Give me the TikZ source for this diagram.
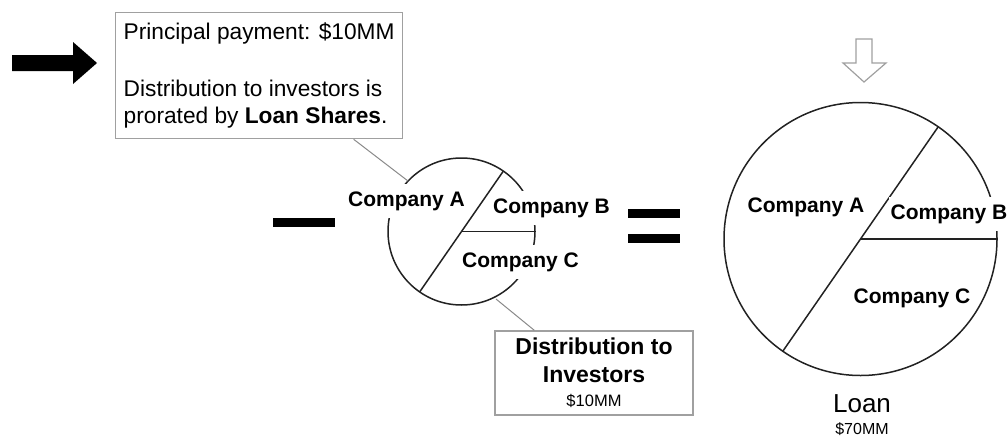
\documentclass[tikz,border=0pt]{standalone}
\usepackage{fontspec}
\setmainfont{Liberation Sans}
\usetikzlibrary{calc}
\definecolor{boxgray}{HTML}{A0A0A0}
\definecolor{callgray}{HTML}{8A8A8A}
\definecolor{piecol}{HTML}{222222}
\begin{document}
\begin{tikzpicture}[x=1pt,y=-1pt,
  pie/.style={draw=piecol, line width=1.5pt},
  lbl/.style={fill=white, font=\bfseries\fontsize{21}{24}\selectfont, text height=15pt, text depth=4.5pt, inner xsep=2pt, inner ysep=7pt},
  infobox/.style={draw=boxgray, line width=1.3pt, fill=white},
  callout/.style={draw=callgray, line width=1pt},
  bar/.style={fill=black}]
\useasboundingbox (0,0) rectangle (1008,439);

% black arrow
\fill[black] (12,55) -- (73,55) -- (73,42) -- (97,63) -- (73,84) -- (73,71) -- (12,71) -- cycle;

% principal box
\node[infobox, anchor=north west, minimum width=287pt, minimum height=126pt, inner xsep=4pt, align=left,
      font=\fontsize{22.7}{27}\selectfont] (pbox) at (115,12)
  {Principal payment: \$10MM\\[30pt]Distribution to investors is\\prorated by \textbf{Loan Shares}.};

% small pie
\coordinate (c1) at (461.5,231.5);
\draw[pie] (c1) circle (73.5);
\draw[pie] ($(c1)+(-55.3:73.5)$) -- ($(c1)+(124.7:73.5)$);
\draw[pie] (c1) -- ($(c1)+(73.5,0)$);

% big pie
\coordinate (c2) at (860.5,239);
\draw[pie] (c2) circle (136.5);
\draw[pie] ($(c2)+(-55.3:136.5)$) -- ($(c2)+(124.7:136.5)$);
\draw[pie] (c2) -- ($(c2)+(136.5,0)$);

% distribution box
\node[infobox, minimum width=198pt, minimum height=84pt, align=center,
      font=\bfseries\fontsize{23}{28}\selectfont] (dbox) at (594,373)
  {Distribution to\\Investors\\[-4pt]{\normalfont\fontsize{16.5}{19}\selectfont \$10MM}};

% callouts
\coordinate (t1) at (408,181);
\coordinate (t2) at (496,299);
\draw[callout] ($(pbox.south)+(94.5,0)$) -- (t1);
\draw[callout] (t2) -- ($(dbox.north west)+(40,0)$);

% labels small pie
\node[lbl] (sa) at (406.5,201) {Company A};
\node[lbl] (sb) at (551.5,208) {Company B};
\node[lbl] (sc) at (520.5,262) {Company C};

% labels big pie
\node[lbl] (ba) at (806,207) {Company A};
\node[lbl] (bb) at (949,214) {Company B};
\node[lbl] (bc) at (912,298) {Company C};

% minus and equals
\fill[bar] (273,218) rectangle (335,227);
\fill[bar] (628,209) rectangle (680,218);
\fill[bar] (628,234) rectangle (680,243);

% hollow down arrow
\draw[boxgray, fill=white, line width=1.2pt, line join=miter] (856,39) -- (872,39) -- (872,63) -- (886,63) -- (864,82) -- (843,63) -- (856,63) -- cycle;

% loan labels
\node[font=\fontsize{26}{30}\selectfont] (loan) at (862,404) {Loan};
\node[font=\fontsize{16}{19}\selectfont] (amt) at (862,429) {\$70MM};
\end{tikzpicture}
\end{document}
